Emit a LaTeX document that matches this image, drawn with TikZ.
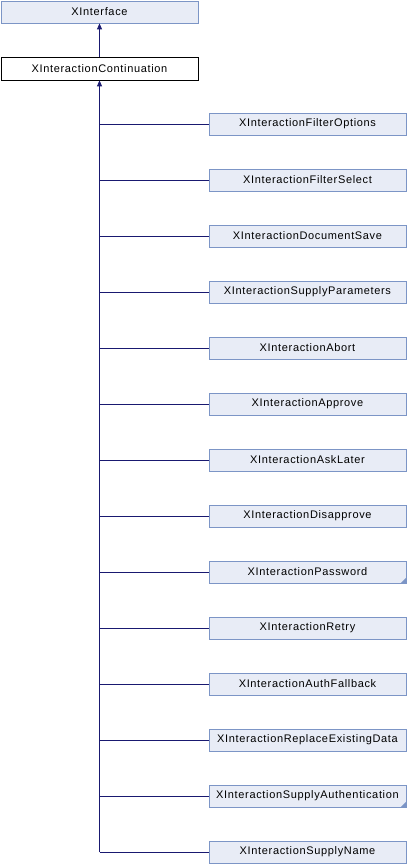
\documentclass[tikz,border=0pt]{standalone}
\usepackage{fontspec}
\usetikzlibrary{arrows.meta}
\setmainfont{Liberation Sans}[LetterSpace=6]
\definecolor{boxfill}{HTML}{E8ECF6}
\definecolor{boxdraw}{HTML}{7C95C6}
\definecolor{edge}{HTML}{191970}
\begin{document}
\begin{tikzpicture}[x=1pt,y=-1pt,
  cls/.style={draw=boxdraw,fill=boxfill,line width=0.8pt,minimum width=197pt,minimum height=22pt,inner sep=0pt,font=\fontsize{11}{13}\selectfont},
  cur/.style={draw=black,fill=white,line width=0.8pt,minimum width=197pt,minimum height=23pt,inner sep=0pt,font=\fontsize{11}{13}\selectfont},
  inh/.style={draw=edge,line width=0.8pt,-{Triangle[length=6pt,width=5pt]}},
  link/.style={draw=edge,line width=0.8pt}]
\useasboundingbox (0,0) rectangle (408,864);
\node[cls] (xi) at (99.5,12) {XInterface};
\node[cur] (xc) at (99.5,68.5) {XInteractionContinuation};
\draw[inh] (xc.north) -- (xi.south);
\foreach \n/\t [count=\i] in {c1/XInteractionFilterOptions,c2/XInteractionFilterSelect,c3/XInteractionDocumentSave,c4/XInteractionSupplyParameters,c5/XInteractionAbort,c6/XInteractionApprove,c7/XInteractionAskLater,c8/XInteractionDisapprove,c9/XInteractionPassword,c10/XInteractionRetry,c11/XInteractionAuthFallback,c12/XInteractionReplaceExistingData,c13/XInteractionSupplyAuthentication,c14/XInteractionSupplyName}{
  \node[cls] (\n) at (307.5,{124+56*(\i-1)}) {\t};
  \coordinate (j\n) at (99.5,{124+56*(\i-1)});
  \draw[link] (j\n) -- (\n.west);
}
\foreach \n in {c9,c13}{
  \fill[boxdraw] (\n.south east) -- ++(0,-6) -- ++(-6,6) -- cycle;
}
\draw[inh] (jc14) -- (xc.south);
\end{tikzpicture}
\end{document}
